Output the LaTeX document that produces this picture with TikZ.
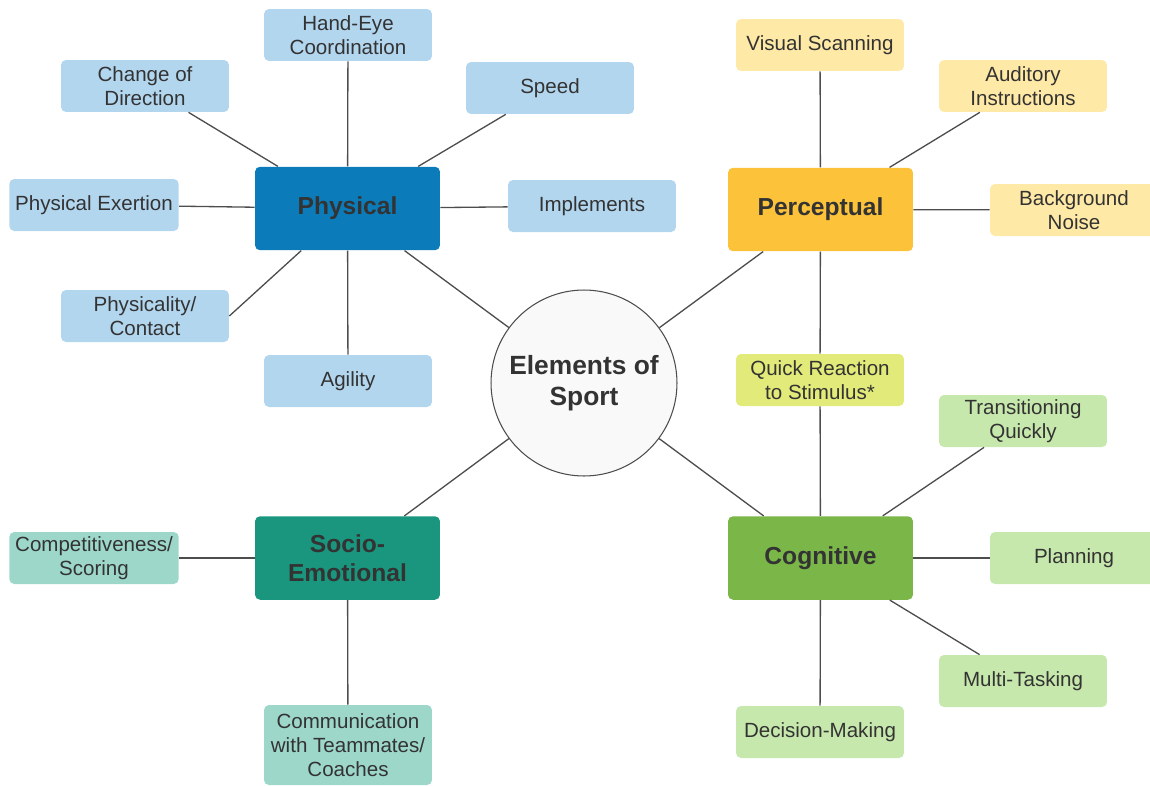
\documentclass[tikz,border=0pt]{standalone}
\usepackage{fontspec}
\setmainfont{Liberation Sans}
\usepackage{xcolor}
\usetikzlibrary{positioning}
\definecolor{SPInk}{HTML}{333333}
\definecolor{SPLine}{HTML}{4D4D4D}
\definecolor{SPBlue}{HTML}{0C7BBA}
\definecolor{SPBlueLt}{HTML}{B3D6EF}
\definecolor{SPGold}{HTML}{FBC23A}
\definecolor{SPGoldLt}{HTML}{FFE9A6}
\definecolor{SPLime}{HTML}{E2EA7A}
\definecolor{SPGreen}{HTML}{7AB648}
\definecolor{SPGreenLt}{HTML}{C7E8AC}
\definecolor{SPTeal}{HTML}{19967D}
\definecolor{SPTealLt}{HTML}{9DD7CA}
\definecolor{SPHub}{HTML}{F9F9F9}

\begin{document}
\begin{tikzpicture}[x=0.02cm,y=-0.02cm,
  area/.style={rounded corners=1mm,minimum width=3.7cm,minimum height=1.67cm,align=center,text=SPInk,font=\fontsize{14}{16.5}\selectfont\bfseries},
  item/.style={rounded corners=1mm,minimum width=3.36cm,minimum height=1.04cm,inner ysep=2pt,align=center,text=SPInk,font=\fontsize{11.7}{13.6}\selectfont},
  hub/.style={circle,draw=SPLine,line width=0.6pt,fill=SPHub,minimum size=3.72cm,align=center,text=SPInk,font=\fontsize{15}{18}\selectfont\bfseries},
  link/.style={draw=SPLine,line width=0.75pt}
]
\useasboundingbox (0,0) rectangle (1150,785);
% centre
\node[hub] (sport) at (584,383) {Elements of\\Sport};
% four areas
\node[area,fill=SPBlue] (phys) at (347.5,208.5) {Physical};
\node[area,fill=SPGold] (perc) at (820.5,209.5) {Perceptual};
\node[area,fill=SPTeal] (socio) at (347.5,558) {Socio-\\Emotional};
\node[area,fill=SPGreen] (cogn) at (820.5,558) {Cognitive};
% physical
\node[item,fill=SPBlueLt] (ph1) at (348,35) {Hand-Eye\\Coordination};
\node[item,fill=SPBlueLt] (ph2) at (145,86) {Change of\\Direction};
\node[item,fill=SPBlueLt] (ph3) at (550,88) {Speed};
\node[item,fill=SPBlueLt] (ph4) at (94,205) {Physical Exertion};
\node[item,fill=SPBlueLt] (ph5) at (592,206) {Implements};
\node[item,fill=SPBlueLt] (ph6) at (145,316) {Physicality/\\Contact};
\node[item,fill=SPBlueLt] (ph7) at (348,381) {Agility};
% perceptual
\node[item,fill=SPGoldLt] (pe1) at (820,45) {Visual Scanning};
\node[item,fill=SPGoldLt] (pe2) at (1023,86) {Auditory\\Instructions};
\node[item,fill=SPGoldLt] (pe3) at (1074,210) {Background\\Noise};
\node[item,fill=SPLime] (quick) at (820,380) {Quick Reaction\\to Stimulus*};
% cognitive
\node[item,fill=SPGreenLt] (co1) at (1023,421) {Transitioning\\Quickly};
\node[item,fill=SPGreenLt] (co2) at (1074,558) {Planning};
\node[item,fill=SPGreenLt] (co3) at (1023,681) {Multi-Tasking};
\node[item,fill=SPGreenLt] (co4) at (820,732) {Decision-Making};
% socio-emotional
\node[item,fill=SPTealLt] (so1) at (94,558) {Competitiveness/\\Scoring};
\node[item,fill=SPTealLt,minimum height=1.6cm] (so2) at (348,745) {Communication\\with Teammates/\\Coaches};

\draw[link] (phys) -- (sport);
\draw[link] (perc) -- (sport);
\draw[link] (socio) -- (sport);
\draw[link] (cogn) -- (sport);
\foreach \n in {ph1,ph2,ph3,ph4,ph5,ph7}
  \draw[link] (phys) -- (\n);
\draw[link] (ph6.east) -- (phys);
\foreach \n in {pe1,pe2,pe3,quick}
  \draw[link] (perc) -- (\n);
\draw[link] (quick) -- (cogn);
\foreach \n in {co1,co2,co3,co4}
  \draw[link] (cogn) -- (\n);
\draw[link] (socio) -- (so1);
\draw[link] (socio) -- (so2);
\end{tikzpicture}
\end{document}
